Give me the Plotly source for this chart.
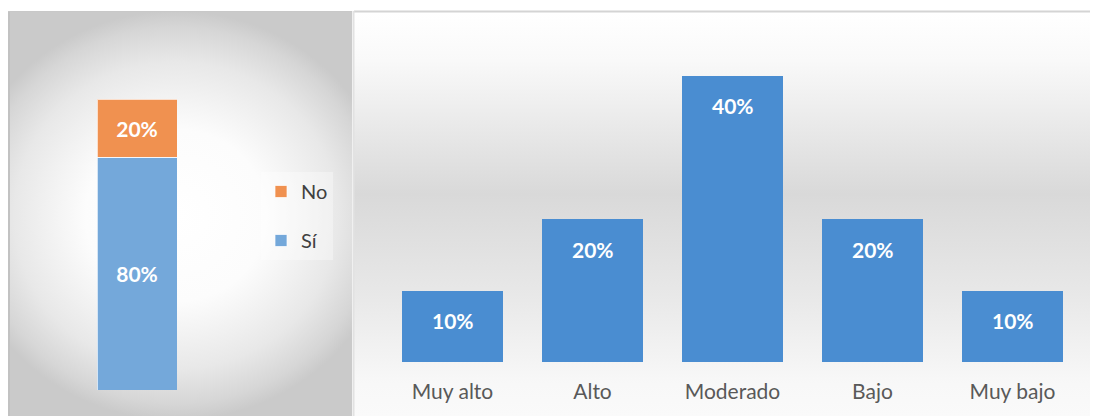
import plotly.graph_objects as go

# ---------------- data ----------------
left_series = ["Sí", "No"]
left_values = [0.80, 0.20]
left_colors = ["#74a8da", "#f09150"]

levels = ["Muy alto", "Alto", "Moderado", "Bajo", "Muy bajo"]
level_values = [0.10, 0.20, 0.40, 0.20, 0.10]

# page has an 8px body margin; figure fills the rest of the window
OFF = 8
W, H = 1098 - OFF, 416 - OFF
FONT = "Lato"


def px(X):
    return (X - OFF) / W


def py(Y):
    return 1 - (Y - OFF) / H


fig = go.Figure()

# ---------------- background panels (decorative) ----------------
# left panel: radial gray gradient (clipped by its own subplot)
fig.add_trace(go.Scatter(
    x=[-40, 392, 392, -40, -40], y=[11, 11, 420, 420, 11],
    mode="lines", line=dict(width=0), fill="toself",
    fillgradient=dict(type="radial",
                      colorscale=[[0, "#ffffff"], [0.42, "#fcfcfc"], [0.75, "#e8e8e8"],
                                  [0.92, "#d6d6d6"], [1, "#cacaca"]]),
    hoverinfo="skip", showlegend=False, xaxis="x", yaxis="y"))
# right panel: vertical gradient
fig.add_trace(go.Scatter(
    x=[354, 1098, 1098, 354, 354], y=[12, 12, 416, 416, 12],
    mode="lines", line=dict(width=0), fill="toself",
    fillgradient=dict(type="vertical", start=12, stop=416,
                      colorscale=[[0, "#ffffff"], [0.12, "#f9f9f9"], [0.45, "#d9d9d9"],
                                  [0.7, "#e8e8e8"], [0.92, "#f8f8f8"], [1, "#fafafa"]]),
    hoverinfo="skip", showlegend=False, xaxis="x2", yaxis="y2"))

# ---------------- left stacked bar ----------------
ranks = {"No": 1, "Sí": 2}
for name, val, col in zip(left_series, left_values, left_colors):
    fig.add_trace(go.Bar(
        x=[0], y=[val], width=1, name=name, legendgroup=name, legendrank=ranks[name],
        marker=dict(color=col, line=dict(color="rgba(255,255,255,0.7)", width=1)),
        texttemplate="%{y:.0%}", textposition="inside", insidetextanchor="middle",
        textfont=dict(family=FONT, size=21, color="white", weight="bold"),
        xaxis="x3", yaxis="y3", hoverinfo="skip"))

# ---------------- right bars ----------------
fig.add_trace(go.Bar(
    x=levels, y=level_values, marker=dict(color="#4a8dd1", line=dict(width=0)),
    showlegend=False, xaxis="x4", yaxis="y4", hoverinfo="skip"))

annotations = []
for lv, v in zip(levels, level_values):
    annotations.append(dict(
        x=lv, y=v, xref="x4", yref="y4", text=f"{v:.0%}", showarrow=False,
        yanchor="middle", yshift=-30,
        font=dict(family=FONT, size=21, color="white", weight="bold")))

shapes = [
    # right panel top border and left border
    dict(type="line", xref="paper", yref="paper", x0=px(354), x1=1, y0=py(11.5), y1=py(11.5),
         line=dict(color="#d4d4d4", width=2)),
    dict(type="line", xref="paper", yref="paper", x0=px(353.5), x1=px(353.5), y0=0, y1=py(11),
         line=dict(color="#e2e2e2", width=2)),
    # left panel edges
    dict(type="line", xref="paper", yref="paper", x0=px(9), x1=px(9), y0=0, y1=py(11),
         line=dict(color="#c2c2c2", width=2)),
    dict(type="line", xref="paper", yref="paper", x0=px(8), x1=px(352), y0=py(11.5), y1=py(11.5),
         line=dict(color="#c8c8c8", width=1)),
]

fig.update_layout(
    width=W, height=H, margin=dict(l=0, r=0, t=0, b=0),
    paper_bgcolor="white", plot_bgcolor="rgba(0,0,0,0)",
    barmode="stack", bargap=0.28,
    font=dict(family=FONT, color="#595959"),
    xaxis=dict(domain=[px(8), px(352)], range=[8, 352], visible=False, fixedrange=True, anchor="y"),
    yaxis=dict(domain=[0, py(11)], range=[416, 11], visible=False, fixedrange=True, anchor="x"),
    xaxis2=dict(domain=[px(354), 1], range=[354, 1098], visible=False, fixedrange=True, anchor="y2"),
    yaxis2=dict(domain=[0, py(12)], range=[416, 12], visible=False, fixedrange=True, anchor="x2"),
    xaxis3=dict(domain=[px(97), px(177)], range=[-0.5, 0.5], visible=False, anchor="y3"),
    yaxis3=dict(domain=[py(390), py(99)], range=[0, 1], visible=False, anchor="x3"),
    xaxis4=dict(domain=[px(382.5), px(1082.5)], anchor="y4", showgrid=False, showline=False,
                zeroline=False, ticks="", ticklabelstandoff=15,
                tickfont=dict(family=FONT, size=21, color="#595959")),
    yaxis4=dict(domain=[py(362), py(76)], range=[0, 0.40], visible=False, anchor="x4"),
    legend=dict(x=px(261), y=py(172), xanchor="left", yanchor="top",
                traceorder="grouped", tracegroupgap=20,
                bgcolor="rgba(255,255,255,0.35)",
                font=dict(family=FONT, size=20, color="#404040")),
    annotations=annotations, shapes=shapes,
)

fig.write_html("out.html")
